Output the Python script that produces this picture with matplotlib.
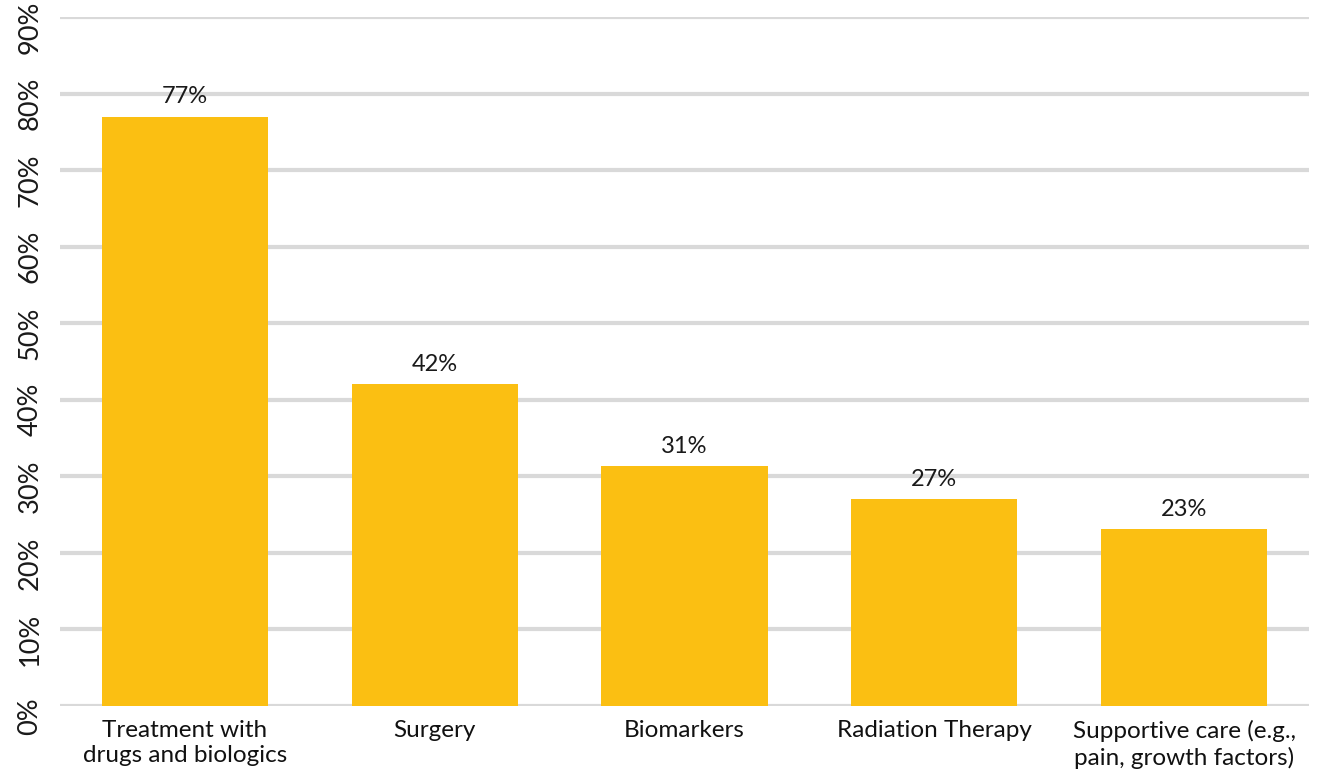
import matplotlib.pyplot as plt
import matplotlib.transforms as mtransforms
import numpy as np

# dados
categorias = ['Treatment with\ndrugs and biologics', 'Surgery', 'Biomarkers',
              'Radiation Therapy', 'Supportive care (e.g.,\npain, growth factors)']
valores = [77, 42, 31.3, 27, 23.1]
rotulos = ['77%', '42%', '31%', '27%', '23%']
yticks = [0, 10, 20, 30, 40, 50, 60, 70, 80, 90]

# configuracoes
COR_BARRA = '#FBBF12'
COR_GRADE = '#D9D9D9'
plt.rcParams['font.family'] = ['Lato', 'DejaVu Sans']

fig = plt.figure(figsize=(13.19, 7.77), dpi=100)
ax = fig.add_axes([60/1319, 71/777, 1249/1319, 689/777])

x = np.arange(len(categorias))
ax.bar(x, valores, width=0.665, color=COR_BARRA, zorder=3)

for xi, v, r in zip(x, valores, rotulos):
    ax.text(xi, v + 1.2, r, ha='center', va='bottom', fontsize=17, color='#1a1a1a')

ax.set_xlim(-0.5, len(categorias) - 0.5)
ax.set_ylim(0, 90)
ax.set_yticks(yticks)
ax.set_yticklabels([])

# rotulos do eixo y, girados e um pouco abaixo das linhas
trans = ax.get_yaxis_transform() + mtransforms.ScaledTranslation(
    -30/100, -10/100, fig.dpi_scale_trans)
for t in yticks:
    ax.text(0, t, f'{t}%', transform=trans, rotation=90, ha='center', va='center',
            fontsize=19.5, color='#1a1a1a')

ax.set_xticks(x)
ax.set_xticklabels(categorias, fontsize=17.5, color='#111111', linespacing=1.25)
ax.tick_params(axis='both', length=0)
ax.tick_params(axis='x', pad=10)

for t in yticks:
    ax.axhline(t, color=COR_GRADE, lw=3, zorder=1)

for s in ax.spines.values():
    s.set_visible(False)

fig.savefig('out.png', dpi=100)
